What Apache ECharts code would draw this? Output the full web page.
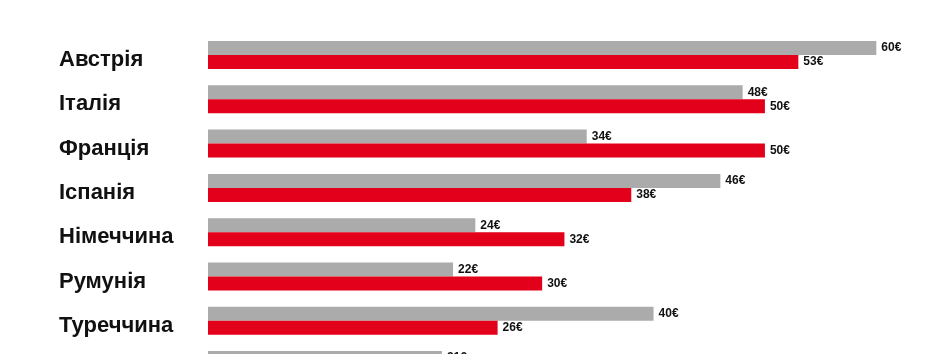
<!DOCTYPE html>
<html><head><meta charset="utf-8">
<script src="https://cdn.jsdelivr.net/npm/echarts@6/dist/echarts.min.js"></script>
<style>html,body{margin:0;padding:0;background:#fff}#c{width:936px;height:354px}</style>
</head><body><div id="c"></div>
<script>
const categories = ['Австрія','Італія','Франція','Іспанія','Німеччина','Румунія','Туреччина',''];
const greyValues = [60,48,34,46,24,22,40,21];
const redValues = [53,50,50,38,32,30,26,null];

const chart = echarts.init(document.getElementById('c'), null, {renderer:'canvas'});
const valLabel = {
  show:true, position:'right', distance:5, color:'#111',
  fontFamily:'Liberation Sans, Arial', fontWeight:'bold', fontSize:12,
  formatter: p => p.value + '€'
};
chart.setOption({
  animation:false,
  backgroundColor:'#fff',
  grid:{left:208, top:32.85, width:724, height:354.4, containLabel:false, outerBoundsMode:'none'},
  xAxis:{type:'value', min:0, max:65, show:false},
  yAxis:{type:'category', data:categories, inverse:true,
    axisLine:{show:false}, axisTick:{show:false}, splitLine:{show:false},
    axisLabel:{align:'left', margin:149,
      formatter: v => v ? '{c|' + v + '}' : '',
      rich:{c:{color:'#111', fontSize:22, fontWeight:'bold',
        fontFamily:'Liberation Sans, Arial', padding:[10,0,0,0]}}}},
  series:[
    {type:'bar', data:greyValues, barWidth:14, barGap:'0%', itemStyle:{color:'#ababab'}, label:valLabel},
    {type:'bar', data:redValues, barWidth:14, barGap:'0%', itemStyle:{color:'#e2001a'}, label:valLabel}
  ]
});
</script></body></html>
